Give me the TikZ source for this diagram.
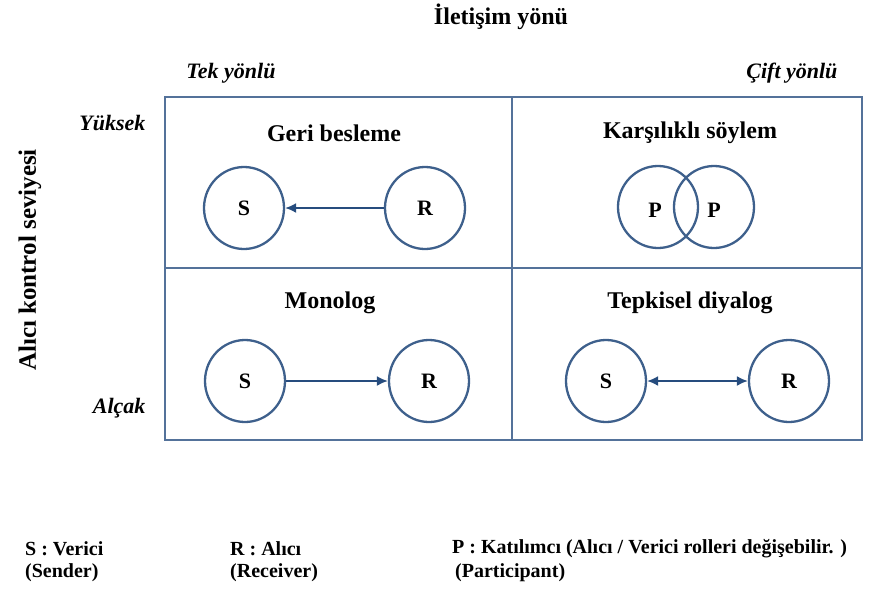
\documentclass[tikz,border=0pt]{standalone}
\usepackage{fontspec}
\setmainfont{Liberation Serif}
\usetikzlibrary{arrows.meta,shapes.geometric}
\definecolor{gridblue}{RGB}{84,114,154}
\definecolor{ringblue}{RGB}{62,96,140}
\definecolor{arrowblue}{RGB}{38,76,126}

\begin{document}
\begin{tikzpicture}[x=1pt,y=-1pt,
  party/.style={ellipse,draw=ringblue,line width=2.3pt,minimum width=80pt,minimum height=82pt,inner sep=0pt,font=\fontsize{22}{24}\bfseries\selectfont},
  heading/.style={font=\fontsize{24}{28}\bfseries\selectfont},
  axislabel/.style={font=\fontsize{22}{26}\bfseries\itshape\selectfont},
  legend/.style={anchor=west,inner sep=0pt,font=\fontsize{20}{24}\bfseries\selectfont},
  flow/.style={draw=arrowblue,line width=1.8pt}]
\useasboundingbox (0,0) rectangle (876,590);

\draw (501,17) node (title) [font=\fontsize{24}{28}\bfseries\selectfont] {İletişim yönü};
\draw (231,73) node (oneway) [axislabel] {Tek yönlü};
\draw (841,73) node (twoway) [axislabel,anchor=east] {Çift yönlü};
\draw (149,123) node (high) [axislabel,anchor=east] {Yüksek};
\draw (149,408) node (low) [axislabel,anchor=east] {Alçak};
\draw (30,260) node (control) [rotate=90,font=\fontsize{25}{30}\bfseries\selectfont] {Alıcı kontrol seviyesi};

\draw[gridblue,line width=1.8pt] (165,97) rectangle (862,440);
\draw[gridblue,line width=1.8pt] (512,97) -- (512,440);
\draw[gridblue,line width=1.8pt] (165,268) -- (862,268);

\draw (334,133) node (feedback) [heading] {Geri besleme};
\draw (244,208) node (s1) [party] {S};
\draw (425,208) node (r1) [party] {R};
\draw[flow,-{Latex[length=11pt,width=10pt]}] (r1) -- (s1);

\draw (690,133) node (discourse) [heading] {Karşılıklı söylem};
\draw (658,207) node (p1) [party] {};
\draw (714,207) node (p2) [party] {};
\draw (655,210) node (p1text) [font=\fontsize{22}{24}\bfseries\selectfont] {P};
\draw (714,210) node (p2text) [font=\fontsize{22}{24}\bfseries\selectfont] {P};

\draw (330,303) node (monolog) [heading] {Monolog};
\draw (245,381) node (s2) [party] {S};
\draw (429,381) node (r2) [party] {R};
\draw[flow,-{Latex[length=11pt,width=10pt]}] (s2) -- (r2);

\draw (690,303) node (dialog) [heading] {Tepkisel diyalog};
\draw (606,381) node (s3) [party] {S};
\draw (789,381) node (r3) [party] {R};
\draw[flow,{Latex[length=11pt,width=10pt]}-{Latex[length=11pt,width=10pt]}] (s3) -- (r3);

\draw (25,549) node (skey) [legend] {S : Verici};
\draw (25,573) node (sname) [legend] {(Sender)};
\draw (230,549) node (rkey) [legend] {R : Alıcı};
\draw (230,573) node (rname) [legend] {(Receiver)};
\draw (452,549) node (pkey) [legend] {P : Katılımcı (Alıcı / Verici rolleri değişebilir. )};
\draw (455,573) node (pname) [legend] {(Participant)};

\end{tikzpicture}
\end{document}
